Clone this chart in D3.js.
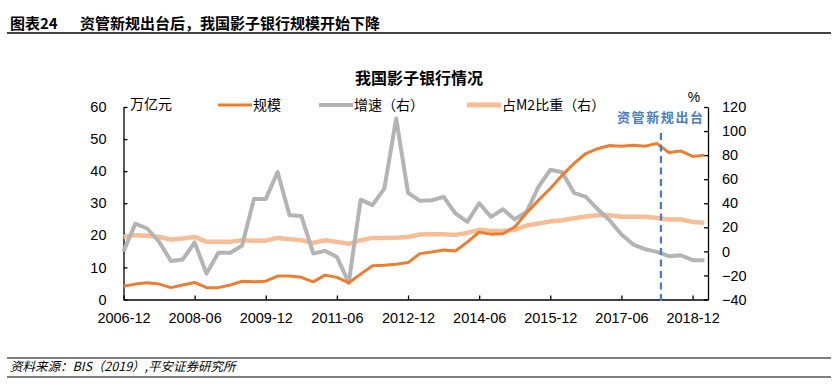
<!DOCTYPE html>
<html>
<head>
<meta charset="utf-8">
<script src="https://cdn.jsdelivr.net/npm/d3@7/dist/d3.min.js"></script>
<style>
    body { margin: 0; background: #fff; }
    svg { display: block; }
    .cjk { font-family: "Noto Sans CJK SC", "Liberation Sans", sans-serif; }
    .num { font-family: "Liberation Sans", Arial, sans-serif; }
</style>
</head>
<body>
<div id="chart"></div>
<script>
// 画布尺寸
const width = 838;
const height = 392;

// 季度类别
const quarters = [
    "2006-12", "2007-03", "2007-06", "2007-09", "2007-12", "2008-03", "2008-06", "2008-09",
    "2008-12", "2009-03", "2009-06", "2009-09", "2009-12", "2010-03", "2010-06", "2010-09",
    "2010-12", "2011-03", "2011-06", "2011-09", "2011-12", "2012-03", "2012-06", "2012-09",
    "2012-12", "2013-03", "2013-06", "2013-09", "2013-12", "2014-03", "2014-06", "2014-09",
    "2014-12", "2015-03", "2015-06", "2015-09", "2015-12", "2016-03", "2016-06", "2016-09",
    "2016-12", "2017-03", "2017-06", "2017-09", "2017-12", "2018-03", "2018-06", "2018-09",
    "2018-12", "2019-03"
];

// 规模（万亿元，左轴）
const scale = [
    4.1, 4.8, 5.2, 4.8, 3.7, 4.5, 5.3, 3.7, 3.7, 4.5,
    5.7, 5.5, 5.7, 7.3, 7.3, 6.9, 5.5, 7.6, 6.9, 5.2,
    7.9, 10.5, 10.7, 11.0, 11.5, 14.3, 14.8, 15.4, 15.1, 17.9,
    21.0, 20.3, 20.5, 22.6, 27.0, 30.9, 34.6, 38.7, 42.4, 45.5,
    47.0, 48.0, 47.8, 48.1, 47.8, 48.6, 45.8, 46.3, 44.6, 45.0
];

// 增速（%，右轴）
const growth = [
    0, 23, 19, 8, -8, -6.7, 7.4, -18.4, -1.2, -1.2,
    4.6, 43.6, 43.6, 66, 30, 29.5, -1.7, 0.4, -4.6, -26.2,
    43, 38.4, 52.2, 110.4, 48.6, 42, 42.5, 45.3, 31.5, 24.5,
    40, 28.7, 35, 26.6, 33.1, 53.6, 67.8, 65.8, 48.7, 45.3,
    35, 25.9, 14, 5.7, 1.8, -0.4, -4, -3.2, -7.3, -7.3
];

// 占M2比重（%，右轴）
const m2Share = [
    12, 13.5, 13, 12, 9.9, 10.7, 12, 7.9, 7.9, 7.9,
    9.3, 8.9, 8.9, 11.2, 10, 9.3, 7.1, 9.3, 7.9, 6.3,
    9.3, 11.2, 11.2, 11.3, 12, 14, 14.3, 14.3, 13.7, 15.4,
    17.9, 17, 17, 17.9, 21.5, 23.2, 24.8, 25.9, 27.5, 29,
    30, 30, 28.7, 28.7, 28.7, 27.8, 26.5, 26.5, 24.5, 23.7
];

// 坐标轴刻度
const xTickLabels = ["2006-12", "2008-06", "2009-12", "2011-06", "2012-12", "2014-06", "2015-12", "2017-06", "2018-12"];
const leftTicks = [0, 10, 20, 30, 40, 50, 60];
const rightTicks = [-40, -20, 0, 20, 40, 60, 80, 100, 120];

// 资管新规出台时间（2018年4月，位于季度序号之间）
const policyIndex = 45.33;

// 图例
const legendItems = [
    { name: "规模", color: "#ED7D31", width: 3, x: 218 },
    { name: "增速（右）", color: "#B4B4B4", width: 4, x: 319 },
    { name: "占M2比重（右）", color: "#F7BE95", width: 5, x: 467 }
];

// 绘图区
const plot = { left: 123.5, right: 708, top: 107, bottom: 299.5 };

const svg = d3.select("#chart")
    .append("svg")
    .attr("width", width)
    .attr("height", height);

// 比例尺
const x = d3.scaleLinear()
    .domain([0, 49.3])
    .range([plot.left, plot.right]);

const yLeft = d3.scaleLinear()
    .domain([0, 60])
    .range([plot.bottom, plot.top]);

const yRight = d3.scaleLinear()
    .domain([-40, 120])
    .range([plot.bottom, plot.top]);

// 顶部标题和分隔线
svg.append("text")
    .attr("class", "cjk")
    .attr("x", 10)
    .attr("y", 29)
    .style("font-size", "15px")
    .style("font-weight", "bold")
    .text("图表24");

svg.append("text")
    .attr("class", "cjk")
    .attr("x", 80)
    .attr("y", 29)
    .style("font-size", "15px")
    .style("font-weight", "bold")
    .text("资管新规出台后，我国影子银行规模开始下降");

svg.append("line")
    .attr("x1", 7).attr("x2", 831)
    .attr("y1", 33).attr("y2", 33)
    .attr("stroke", "#000")
    .attr("stroke-width", 1.3);

// 图表标题
svg.append("text")
    .attr("class", "cjk")
    .attr("x", 419)
    .attr("y", 84)
    .attr("text-anchor", "middle")
    .style("font-size", "16px")
    .style("font-weight", "bold")
    .text("我国影子银行情况");

// 图例
const legend = svg.append("g").attr("class", "legend");
legendItems.forEach(d => {
    legend.append("line")
        .attr("x1", d.x).attr("x2", d.x + 34)
        .attr("y1", 105).attr("y2", 105)
        .attr("stroke", d.color)
        .attr("stroke-width", d.width);
    legend.append("text")
        .attr("class", "cjk")
        .attr("x", d.x + 35)
        .attr("y", 110)
        .style("font-size", "14px")
        .text(d.name);
});

// 单位
svg.append("text")
    .attr("class", "cjk")
    .attr("x", 130)
    .attr("y", 109)
    .style("font-size", "14px")
    .text("万亿元");

svg.append("text")
    .attr("class", "num")
    .attr("x", 694)
    .attr("y", 102)
    .attr("text-anchor", "middle")
    .style("font-size", "14px")
    .text("%");

// 左轴（刻度朝内）
const leftAxis = d3.axisLeft(yLeft)
    .tickValues(leftTicks)
    .tickSizeInner(-4)
    .tickSizeOuter(0)
    .tickPadding(17);

svg.append("g")
    .attr("transform", `translate(${plot.left},0)`)
    .call(leftAxis)
    .call(g => g.selectAll("text").attr("class", "num").style("font-size", "14.5px").attr("fill", "#000"));

// 右轴（刻度朝内）
const rightAxis = d3.axisRight(yRight)
    .tickValues(rightTicks)
    .tickSizeInner(-4)
    .tickSizeOuter(0)
    .tickPadding(14);

svg.append("g")
    .attr("transform", `translate(${plot.right},0)`)
    .call(rightAxis)
    .call(g => g.selectAll("text").attr("class", "num").style("font-size", "14.5px").attr("fill", "#000"));

// 横轴
const xAxis = d3.axisBottom(x)
    .tickValues(xTickLabels.map(d => quarters.indexOf(d)))
    .tickFormat(i => quarters[i])
    .tickSizeInner(-4)
    .tickSizeOuter(0)
    .tickPadding(13);

svg.append("g")
    .attr("transform", `translate(0,${plot.bottom})`)
    .call(xAxis)
    .call(g => g.selectAll("text").attr("class", "num").style("font-size", "14.5px").attr("fill", "#000"));

svg.selectAll(".domain, .tick line")
    .attr("stroke", "#000")
    .attr("stroke-width", 1.3);

// 线条
const lineLeft = d3.line()
    .x((d, i) => x(i))
    .y(d => yLeft(d));

const lineRight = d3.line()
    .x((d, i) => x(i))
    .y(d => yRight(d));

const lines = svg.append("g").attr("class", "lines");

lines.append("path")
    .datum(m2Share)
    .attr("d", lineRight)
    .attr("fill", "none")
    .attr("stroke", "#F7BE95")
    .attr("stroke-width", 4.5)
    .attr("stroke-linejoin", "round");

lines.append("path")
    .datum(growth)
    .attr("d", lineRight)
    .attr("fill", "none")
    .attr("stroke", "#B4B4B4")
    .attr("stroke-width", 4)
    .attr("stroke-linejoin", "round");

lines.append("path")
    .datum(scale)
    .attr("d", lineLeft)
    .attr("fill", "none")
    .attr("stroke", "#ED7D31")
    .attr("stroke-width", 3)
    .attr("stroke-linejoin", "round");

// 资管新规标注
svg.append("line")
    .attr("x1", x(policyIndex)).attr("x2", x(policyIndex))
    .attr("y1", 133).attr("y2", 301)
    .attr("stroke", "#4A7EBF")
    .attr("stroke-width", 2.3)
    .attr("stroke-dasharray", "7,4.5");

svg.append("text")
    .attr("class", "cjk")
    .attr("x", 617)
    .attr("y", 122)
    .style("font-size", "13px")
    .style("font-weight", "bold")
    .style("letter-spacing", "1.6px")
    .attr("fill", "#4A7EBF")
    .text("资管新规出台");

// 资料来源
svg.append("line")
    .attr("x1", 7).attr("x2", 831)
    .attr("y1", 358).attr("y2", 358)
    .attr("stroke", "#000")
    .attr("stroke-width", 1.2);

svg.append("text")
    .attr("class", "cjk")
    .attr("x", 10)
    .attr("y", 371)
    .style("font-size", "12.5px")
    .style("font-style", "italic")
    .text("资料来源：BIS（2019）,平安证券研究所");

svg.append("line")
    .attr("x1", 7).attr("x2", 831)
    .attr("y1", 377).attr("y2", 377)
    .attr("stroke", "#000")
    .attr("stroke-width", 1.2);
</script>
</body>
</html>
